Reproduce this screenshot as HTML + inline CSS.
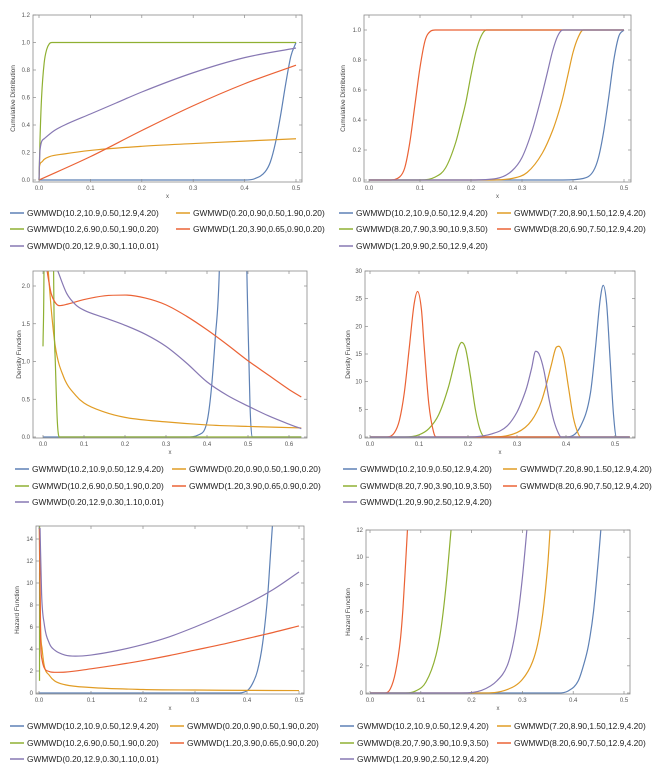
<!DOCTYPE html>
<html><head><meta charset="utf-8"><style>
html,body{margin:0;padding:0;background:#fff;}
svg{display:block;font-family:"Liberation Sans",sans-serif;}
</style></head><body>
<svg id="chart" width="662" height="776" viewBox="0 0 662 776" xmlns="http://www.w3.org/2000/svg"></svg>
<script>
// ---- data ----
const legendA = ["GWMWD(10.2,10.9,0.50,12.9,4.20)","GWMWD(0.20,0.90,0.50,1.90,0.20)","GWMWD(10.2,6.90,0.50,1.90,0.20)","GWMWD(1.20,3.90,0.65,0.90,0.20)","GWMWD(0.20,12.9,0.30,1.10,0.01)"];
const legendB = ["GWMWD(10.2,10.9,0.50,12.9,4.20)","GWMWD(7.20,8.90,1.50,12.9,4.20)","GWMWD(8.20,7.90,3.90,10.9,3.50)","GWMWD(8.20,6.90,7.50,12.9,4.20)","GWMWD(1.20,9.90,2.50,12.9,4.20)"];
const seriesColors = ["#5E81B5","#E19C24","#8FB032","#EB6235","#8778B3"];

// Panel 1 CDF (left)
const p1BlueX=[0,0.40,0.42,0.44,0.45,0.46,0.47,0.48,0.49,0.5];
const p1BlueY=[0,0,0.01,0.06,0.13,0.27,0.47,0.70,0.90,1.0];
const p1OrangeX=[0,0.001,0.005,0.01,0.02,0.05,0.1,0.2,0.3,0.4,0.5];
const p1OrangeY=[0,0.10,0.13,0.15,0.17,0.19,0.215,0.245,0.265,0.283,0.30];
const p1GreenX=[0,0.002,0.005,0.01,0.015,0.02,0.025,0.03,0.5];
const p1GreenY=[0,0.3,0.6,0.85,0.95,0.99,1.0,1.0,1.0];
const p1RedX=[0,0.1,0.2,0.3,0.4,0.5];
const p1RedY=[0,0.17,0.36,0.54,0.70,0.835];
const p1PurpleX=[0,0.002,0.01,0.03,0.05,0.1,0.15,0.2,0.3,0.4,0.5];
const p1PurpleY=[0,0.22,0.30,0.36,0.40,0.48,0.56,0.64,0.78,0.89,0.96];

// Panel 2 CDF (right)
const p2BlueX=[0,0.38,0.42,0.44,0.45,0.46,0.47,0.48,0.49,0.5];
const p2BlueY=[0,0,0.01,0.06,0.15,0.32,0.55,0.80,0.96,1];
const p2OrangeX=[0,0.24,0.28,0.31,0.34,0.36,0.37,0.38,0.39,0.40,0.41,0.42,0.5];
const p2OrangeY=[0,0,0.01,0.05,0.18,0.33,0.43,0.55,0.70,0.85,0.95,1,1];
const p2GreenX=[0,0.1,0.13,0.15,0.17,0.18,0.19,0.20,0.21,0.22,0.23,0.5];
const p2GreenY=[0,0,0.02,0.08,0.25,0.38,0.52,0.70,0.86,0.96,1,1];
const p2RedX=[0,0.04,0.06,0.07,0.08,0.09,0.10,0.11,0.12,0.13,0.5];
const p2RedY=[0,0,0.02,0.08,0.25,0.5,0.75,0.93,0.99,1,1];
const p2PurpleX=[0,0.2,0.25,0.28,0.30,0.32,0.33,0.34,0.35,0.36,0.37,0.38,0.5];
const p2PurpleY=[0,0,0.01,0.06,0.15,0.33,0.45,0.58,0.72,0.86,0.96,1,1];

// Panel 3 density (left)
const p3BlueX=[0,0.35,0.38,0.40,0.41,0.42,0.43,0.44,0.47,0.495,0.50,0.505,0.51,0.63];
const p3BlueY=[0,0,0.03,0.2,0.6,1.3,2.2,5,20,3,1.5,0.4,0,0];
const p3OrangeX=[0.001,0.01,0.02,0.03,0.05,0.08,0.1,0.15,0.2,0.3,0.4,0.5,0.63];
const p3OrangeY=[3,2.4,1.7,1.2,0.8,0.55,0.45,0.33,0.26,0.2,0.16,0.14,0.12];
const p3GreenX=[0,0.003,0.01,0.02,0.025,0.03,0.035,0.04,0.63];
const p3GreenY=[1.2,3,30,20,3,1.0,0.2,0,0];
const p3RedX=[0,0.01,0.02,0.03,0.04,0.06,0.1,0.15,0.2,0.25,0.3,0.35,0.4,0.45,0.5,0.55,0.6,0.63];
const p3RedY=[2.6,2.2,1.9,1.78,1.74,1.76,1.82,1.87,1.88,1.84,1.75,1.6,1.42,1.22,1.01,0.82,0.63,0.53];
const p3PurpleX=[0.036,0.058,0.08,0.1,0.15,0.2,0.25,0.3,0.35,0.4,0.45,0.5,0.55,0.6,0.63];
const p3PurpleY=[2.2,1.9,1.75,1.68,1.58,1.48,1.36,1.2,0.98,0.73,0.55,0.41,0.28,0.17,0.11];

// Panel 4 density (right)
const p4BlueX=[0,0.4,0.43,0.45,0.46,0.47,0.476,0.483,0.49,0.497,0.503,0.53];
const p4BlueY=[0,0,2,8,16,25,27.4,24,14,4,0,0];
const p4OrangeX=[0,0.24,0.3,0.33,0.35,0.36,0.37,0.38,0.385,0.395,0.405,0.415,0.425,0.43,0.53];
const p4OrangeY=[0,0,0.8,3,6.5,9.5,13,16.2,16.4,14.5,9,3.5,0.6,0,0];
const p4GreenX=[0,0.07,0.1,0.12,0.14,0.16,0.17,0.18,0.187,0.195,0.205,0.215,0.225,0.235,0.53];
const p4GreenY=[0,0,0.4,1.5,4,9,12.5,16,17.1,16,11,5,1.2,0,0];
const p4RedX=[0,0.035,0.05,0.06,0.07,0.08,0.09,0.097,0.105,0.11,0.12,0.13,0.135,0.53];
const p4RedY=[0,0,0.8,3,8,16,24,26.3,23,17,6,0.8,0,0];
const p4PurpleX=[0,0.2,0.25,0.28,0.3,0.31,0.32,0.33,0.338,0.345,0.355,0.365,0.375,0.385,0.39,0.53];
const p4PurpleY=[0,0,0.6,2,4.5,6.5,9,12.5,15.5,15,12,7,3,0.6,0,0];

// Panel 5 hazard (left)
const p5BlueX=[0,0.38,0.40,0.41,0.42,0.43,0.44,0.445,0.45];
const p5BlueY=[0,0,0.2,0.8,2,4.5,9,12.5,16];
const p5OrangeX=[0.0005,0.003,0.006,0.01,0.02,0.03,0.05,0.1,0.2,0.3,0.4,0.5];
const p5OrangeY=[15,6,4,2.5,1.6,1.1,0.75,0.5,0.32,0.27,0.24,0.22];
const p5GreenX=[0.001,0.0012];
const p5GreenY=[1.1,16];
const p5RedX=[0.001,0.003,0.006,0.01,0.02,0.03,0.05,0.1,0.15,0.2,0.25,0.3,0.35,0.4,0.45,0.5];
const p5RedY=[15,5,3,2.3,1.95,1.88,1.9,2.2,2.55,2.95,3.4,3.9,4.4,4.95,5.5,6.1];
const p5PurpleX=[0.002,0.005,0.01,0.02,0.03,0.05,0.07,0.1,0.15,0.2,0.25,0.3,0.35,0.4,0.45,0.5];
const p5PurpleY=[15,9,6.3,4.5,3.9,3.45,3.35,3.45,3.85,4.4,5.1,6.0,7.0,8.1,9.4,11.0];

// Panel 6 hazard (right)
const p6BlueX=[0,0.37,0.39,0.41,0.42,0.43,0.44,0.45,0.455];
const p6BlueY=[0,0,0.15,0.9,2,3.5,6,10,12.3];
const p6OrangeX=[0,0.22,0.27,0.3,0.32,0.33,0.34,0.35,0.355];
const p6OrangeY=[0,0,0.25,1,2.3,3.6,5.8,9.5,12.3];
const p6GreenX=[0,0.07,0.09,0.11,0.13,0.14,0.15,0.16];
const p6GreenY=[0,0,0.15,0.8,2.8,4.8,8,12.2];
const p6RedX=[0,0.03,0.04,0.05,0.06,0.065,0.07,0.074];
const p6RedY=[0,0,0.3,1.5,4,6.3,9.5,12.2];
const p6PurpleX=[0,0.18,0.22,0.25,0.27,0.28,0.29,0.30,0.31];
const p6PurpleY=[0,0,0.2,0.9,2,3.3,5.4,8.5,12.5];

const xTicksA=[0,0.1,0.2,0.3,0.4,0.5];
const xTicksC=[0,0.1,0.2,0.3,0.4,0.5,0.6];
const yTicks1=[0,0.2,0.4,0.6,0.8,1.0,1.2];
const yTicks2=[0,0.2,0.4,0.6,0.8,1.0];
const yTicks3=[0,0.5,1.0,1.5,2.0];
const yTicks4=[0,5,10,15,20,25,30];
const yTicks5=[0,2,4,6,8,10,12,14];
const yTicks6=[0,2,4,6,8,10,12];

// ---- layout ----
const NS="http://www.w3.org/2000/svg";
const svg=document.getElementById('chart');
function mk(tag,attrs,parent){const e=document.createElementNS(NS,tag);for(const k in attrs)e.setAttribute(k,attrs[k]);(parent||svg).appendChild(e);return e;}

// monotone cubic (Fritsch–Carlson) path in pixel space
function smoothPath(px,py){
  const n=px.length;
  if(n<3){return px.map((x,i)=>(i?'L':'M')+x.toFixed(2)+','+py[i].toFixed(2)).join('');}
  const d=[],m=new Array(n);
  for(let i=0;i<n-1;i++){const dx=px[i+1]-px[i];d.push(dx===0?0:(py[i+1]-py[i])/dx);}
  m[0]=d[0];m[n-1]=d[n-2];
  for(let i=1;i<n-1;i++){m[i]=(d[i-1]*d[i]<=0)?0:(d[i-1]+d[i])/2;}
  for(let i=0;i<n-1;i++){
    if(d[i]===0){m[i]=0;m[i+1]=0;continue;}
    const a=m[i]/d[i],b=m[i+1]/d[i],s=a*a+b*b;
    if(s>9){const t=3/Math.sqrt(s);m[i]=t*a*d[i];m[i+1]=t*b*d[i];}
  }
  let s='M'+px[0].toFixed(2)+','+py[0].toFixed(2);
  for(let i=0;i<n-1;i++){
    const h=(px[i+1]-px[i])/3;
    s+='C'+(px[i]+h).toFixed(2)+','+(py[i]+m[i]*h).toFixed(2)+' '+(px[i+1]-h).toFixed(2)+','+(py[i+1]-m[i+1]*h).toFixed(2)+' '+px[i+1].toFixed(2)+','+py[i+1].toFixed(2);
  }
  return s;
}

const panels=[
 {id:'cdf-left',frame:[33,15,302,182],xp:[39,296],yp:[180,42.5],yv:1,xt:xTicksA,yt:yTicks1,yd:1,title:'Cumulative Distribution',ytx:15,series:[[p1BlueX,p1BlueY],[p1OrangeX,p1OrangeY],[p1GreenX,p1GreenY],[p1RedX,p1RedY],[p1PurpleX,p1PurpleY]],leg:legendA,lx:[10,176],rows:[213,229,246]},
 {id:'cdf-right',frame:[364,15,631,182],xp:[369,624],yp:[180,30],yv:1,xt:xTicksA,yt:yTicks2,yd:1,title:'Cumulative Distribution',ytx:345,series:[[p2BlueX,p2BlueY],[p2OrangeX,p2OrangeY],[p2GreenX,p2GreenY],[p2RedX,p2RedY],[p2PurpleX,p2PurpleY]],leg:legendB,lx:[339,497],rows:[213,229,246]},
 {id:'pdf-left',frame:[33,271,307,438],xp:[43,248],yp:[437,286],yv:2,xt:xTicksC,yt:yTicks3,yd:1,title:'Density Function',ytx:21,series:[[p3BlueX,p3BlueY],[p3OrangeX,p3OrangeY],[p3GreenX,p3GreenY],[p3RedX,p3RedY],[p3PurpleX,p3PurpleY]],leg:legendA,lx:[15,172],rows:[469,486,502]},
 {id:'pdf-right',frame:[365,271,635,438],xp:[370,615],yp:[437,271],yv:30,xt:xTicksA,yt:yTicks4,yd:0,title:'Density Function',ytx:350,series:[[p4BlueX,p4BlueY],[p4OrangeX,p4OrangeY],[p4GreenX,p4GreenY],[p4RedX,p4RedY],[p4PurpleX,p4PurpleY]],leg:legendB,lx:[343,503],rows:[469,486,502]},
 {id:'hazard-left',frame:[36,526,304,694],xp:[39,299],yp:[693,539],yv:14,xt:xTicksA,yt:yTicks5,yd:0,title:'Hazard Function',ytx:19,series:[[p5BlueX,p5BlueY],[p5OrangeX,p5OrangeY],[p5GreenX,p5GreenY],[p5RedX,p5RedY],[p5PurpleX,p5PurpleY]],leg:legendA,lx:[10,170],rows:[726,743,759]},
 {id:'hazard-right',frame:[366,530,630,694],xp:[370,624],yp:[693,530],yv:12,xt:xTicksA,yt:yTicks6,yd:0,title:'Hazard Function',ytx:350,series:[[p6BlueX,p6BlueY],[p6OrangeX,p6OrangeY],[p6GreenX,p6GreenY],[p6RedX,p6RedY],[p6PurpleX,p6PurpleY]],leg:legendB,lx:[340,497],rows:[726,743,759]}
];
const seriesNames=['blue','orange','green','red','purple'];

panels.forEach((p,pi)=>{
  const g=mk('g',{});
  
  
  const [L,T,R,B]=p.frame;
  const sx=v=>p.xp[0]+(p.xp[1]-p.xp[0])*v/0.5;
  const sy=v=>p.yp[0]+(p.yp[1]-p.yp[0])*v/p.yv;
  const cp=mk('clipPath',{id:'clip'+pi},g);
  mk('rect',{x:L,y:T,width:R-L,height:B-T},cp);
  p.series.forEach((s,si)=>{
    const d=smoothPath(s[0].map(sx),s[1].map(sy));
    const path=mk('path',{d:d,fill:'none',stroke:seriesColors[si],'stroke-width':1.2,'clip-path':'url(#clip'+pi+')','stroke-linejoin':'round'},g);
    
    
  });
  const fr=mk('rect',{x:L,y:T,width:R-L,height:B-T,fill:'none',stroke:'#8a8a8a','stroke-width':0.8},g);
  
  
  p.xt.forEach(v=>{
    const x=sx(v);
    mk('line',{x1:x,y1:B,x2:x,y2:B-3,stroke:'#8a8a8a','stroke-width':0.7},g);
    mk('line',{x1:x,y1:T,x2:x,y2:T+3,stroke:'#8a8a8a','stroke-width':0.7},g);
    const t=mk('text',{x:x,y:B+8,'font-size':6,fill:'#555','text-anchor':'middle'},g);
    t.textContent=v.toFixed(1);
    
    
  });
  p.yt.forEach(v=>{
    const y=sy(v);
    mk('line',{x1:L,y1:y,x2:L+3,y2:y,stroke:'#8a8a8a','stroke-width':0.7},g);
    mk('line',{x1:R,y1:y,x2:R-3,y2:y,stroke:'#8a8a8a','stroke-width':0.7},g);
    const t=mk('text',{x:L-3,y:y+2,'font-size':6,fill:'#555','text-anchor':'end'},g);
    t.textContent=v.toFixed(p.yd);
    
    
  });
  const xl=mk('text',{x:(L+R)/2,y:B+16,'font-size':6,fill:'#555','text-anchor':'middle'},g);
  xl.textContent='x';
  
  
  const yl=mk('text',{x:0,y:0,'font-size':6.5,fill:'#444','text-anchor':'middle',transform:'translate('+p.ytx+','+((T+B)/2)+') rotate(-90)'},g);
  yl.textContent=p.title;
  
  
  p.leg.forEach((lab,i)=>{
    const col=i%2,row=Math.floor(i/2);
    const x0=p.lx[col],y0=p.rows[row];
    const lg=mk('g',{},g);
    
    
    mk('line',{x1:x0,y1:y0,x2:x0+14,y2:y0,stroke:seriesColors[i],'stroke-width':1.5},lg);
    const t=mk('text',{x:x0+17,y:y0+3,'font-size':8.4,fill:'#222'},lg);
    t.textContent=lab;
  });
});
</script>
</body></html>
